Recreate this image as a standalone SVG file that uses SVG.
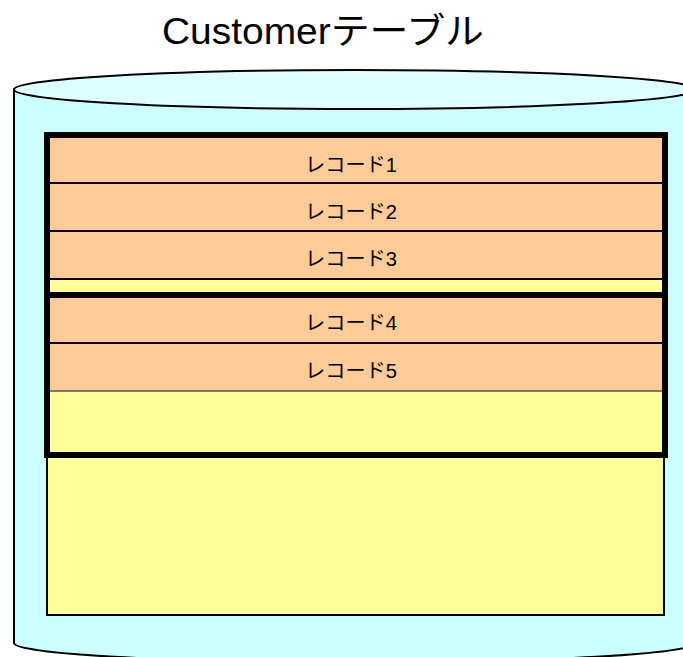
<svg xmlns="http://www.w3.org/2000/svg" width="683" height="657" viewBox="0 0 683 657">
<style>
.t{font-family:"Liberation Sans","Noto Sans CJK JP",sans-serif;fill:#000}
.rec{fill:#FFCC99;stroke:none}
.yel{fill:#FFFF99;stroke:none}
.sep{stroke:#000;stroke-width:2}
.thick{fill:none;stroke:#000;stroke-width:6}
.lbl{font-size:20px}
</style>
<rect width="683" height="657" fill="#fff"/>
<text class="t" x="162" y="44" font-size="36" textLength="322" lengthAdjust="spacingAndGlyphs">Customerテーブル</text>
<g id="cylinder">
<path d="M14,89.5 L14,643 A341,19.5 0 0 0 696,643 L696,89.5 Z" fill="#CCFFFF" stroke="#000" stroke-width="2"/>
<ellipse cx="355" cy="89.5" rx="341" ry="19.5" fill="#DDFFFF" stroke="#000" stroke-width="2"/>
</g>
<g id="lower-box">
<rect x="47" y="455" width="617" height="160" fill="#FFFF99" stroke="#000" stroke-width="2"/>
</g>
<g id="box1">
<rect class="rec" x="47" y="135" width="618" height="48"/>
<rect class="rec" x="47" y="183" width="618" height="48"/>
<rect class="rec" x="47" y="231" width="618" height="48"/>
<rect class="yel" x="47" y="279" width="618" height="16"/>
<line class="sep" x1="47" y1="183" x2="665" y2="183"/>
<line class="sep" x1="47" y1="231" x2="665" y2="231"/>
<line class="sep" x1="47" y1="279" x2="665" y2="279"/>
<text class="t lbl" x="305" y="172" textLength="92" lengthAdjust="spacingAndGlyphs">レコード1</text>
<text class="t lbl" x="305" y="219" textLength="92" lengthAdjust="spacingAndGlyphs">レコード2</text>
<text class="t lbl" x="305" y="266" textLength="92" lengthAdjust="spacingAndGlyphs">レコード3</text>
<rect class="thick" x="47" y="135" width="618" height="160"/>
</g>
<g id="box2">
<rect class="rec" x="47" y="295" width="618" height="48"/>
<rect class="rec" x="47" y="343" width="618" height="48"/>
<rect class="yel" x="47" y="391" width="618" height="64"/>
<line class="sep" x1="47" y1="343" x2="665" y2="343"/>
<line x1="47" y1="391" x2="665" y2="391" stroke="#555" stroke-width="1.5"/>
<text class="t lbl" x="305" y="330" textLength="92" lengthAdjust="spacingAndGlyphs">レコード4</text>
<text class="t lbl" x="305" y="378" textLength="92" lengthAdjust="spacingAndGlyphs">レコード5</text>
<rect class="thick" x="47" y="295" width="618" height="160"/>
</g>
</svg>
